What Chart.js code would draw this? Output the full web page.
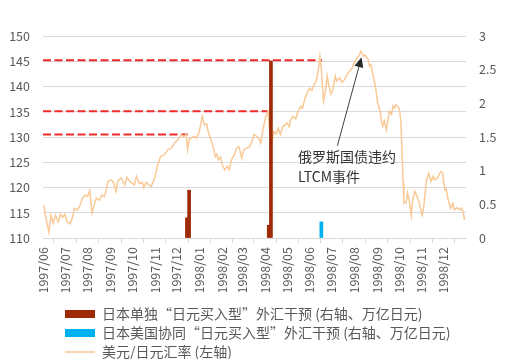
<!DOCTYPE html>
<html>
<head>
<meta charset="utf-8">
<script src="https://cdn.jsdelivr.net/npm/chart.js@4.4.1/dist/chart.umd.min.js"></script>
<style>
  html, body { margin: 0; padding: 0; background: #fff; }
  canvas { display: block; }
</style>
</head>
<body>
<canvas id="myChart" width="511" height="359"></canvas>
<script>
// 月份刻度（最后一个刻度 1999/01 不显示文字）
const xTickLabels = ['1997/06', '1997/07', '1997/08', '1997/09', '1997/10', '1997/11', '1997/12',
  '1998/01', '1998/02', '1998/03', '1998/04', '1998/05', '1998/06', '1998/07', '1998/08',
  '1998/09', '1998/10', '1998/11', '1998/12'];
const xEnd = '1999/01';

// 美元/日元汇率（左轴）
const rateDates = [
  '1997-06-02', '1997-06-05', '1997-06-09', '1997-06-12', '1997-06-15', '1997-06-18', '1997-06-22', '1997-06-25', '1997-06-28',
  '1997-07-01', '1997-07-04', '1997-07-08', '1997-07-11', '1997-07-14', '1997-07-18', '1997-07-21', '1997-07-25', '1997-07-29',
  '1997-08-01', '1997-08-04', '1997-08-07', '1997-08-10', '1997-08-13', '1997-08-17', '1997-08-21', '1997-08-24', '1997-08-26', '1997-08-29',
  '1997-09-02', '1997-09-05', '1997-09-09', '1997-09-11', '1997-09-16', '1997-09-21', '1997-09-24', '1997-09-28',
  '1997-10-04', '1997-10-07', '1997-10-11', '1997-10-15', '1997-10-17', '1997-10-20', '1997-10-24', '1997-10-27',
  '1997-11-01', '1997-11-05', '1997-11-09', '1997-11-14', '1997-11-19', '1997-11-24', '1997-11-28',
  '1997-12-03', '1997-12-07', '1997-12-10', '1997-12-14', '1997-12-16', '1997-12-18', '1997-12-21', '1997-12-25', '1997-12-28',
  '1998-01-01', '1998-01-05', '1998-01-08', '1998-01-11', '1998-01-13', '1998-01-16', '1998-01-19', '1998-01-23', '1998-01-25', '1998-01-27', '1998-01-30',
  '1998-02-02', '1998-02-05', '1998-02-08', '1998-02-11', '1998-02-14', '1998-02-18', '1998-02-21', '1998-02-24', '1998-02-26', '1998-02-28',
  '1998-03-03', '1998-03-07', '1998-03-11', '1998-03-14', '1998-03-17', '1998-03-21', '1998-03-23', '1998-03-26', '1998-03-29',
  '1998-04-02', '1998-04-05', '1998-04-07', '1998-04-10', '1998-04-13', '1998-04-16', '1998-04-19', '1998-04-22', '1998-04-25', '1998-04-28',
  '1998-05-01', '1998-05-04', '1998-05-06', '1998-05-09', '1998-05-13', '1998-05-16', '1998-05-20', '1998-05-22', '1998-05-26', '1998-05-29',
  '1998-06-01', '1998-06-04', '1998-06-07', '1998-06-10', '1998-06-13', '1998-06-15', '1998-06-17', '1998-06-20', '1998-06-23', '1998-06-25', '1998-06-27', '1998-06-30',
  '1998-07-03', '1998-07-06', '1998-07-08', '1998-07-12', '1998-07-15', '1998-07-19', '1998-07-22', '1998-07-25', '1998-07-29',
  '1998-08-01', '1998-08-05', '1998-08-08', '1998-08-10', '1998-08-14', '1998-08-16', '1998-08-20', '1998-08-22', '1998-08-24', '1998-08-26', '1998-08-30',
  '1998-09-02', '1998-09-05', '1998-09-07', '1998-09-09', '1998-09-11', '1998-09-14', '1998-09-16', '1998-09-18', '1998-09-21', '1998-09-23', '1998-09-25', '1998-09-27', '1998-09-30',
  '1998-10-02', '1998-10-04', '1998-10-07', '1998-10-08', '1998-10-11', '1998-10-13', '1998-10-16', '1998-10-18', '1998-10-20', '1998-10-23', '1998-10-26', '1998-10-29',
  '1998-11-02', '1998-11-04', '1998-11-08', '1998-11-11', '1998-11-14', '1998-11-17', '1998-11-19', '1998-11-23', '1998-11-26', '1998-11-28', '1998-11-30',
  '1998-12-03', '1998-12-05', '1998-12-07', '1998-12-11', '1998-12-14', '1998-12-16', '1998-12-20', '1998-12-23', '1998-12-26', '1998-12-28', '1998-12-30'
];
const rateValues = [
  116.5, 114.0, 111.2, 114.5, 112.9, 114.5, 113.2, 114.7, 114.1,
  114.7, 113.2, 112.8, 113.9, 115.9, 115.5, 116.2, 117.9, 118.5,
  118.2, 119.4, 114.9, 116.5, 117.9, 117.5, 118.5, 118.2, 119.2, 121.2,
  121.5, 121.2, 119.2, 121.2, 121.9, 120.5, 122.0, 121.2,
  120.5, 122.2, 120.8, 121.0, 119.9, 121.0, 120.5, 120.2,
  121.9, 124.5, 126.1, 126.5, 127.5, 127.8, 128.8,
  129.5, 130.5, 130.1, 130.5, 127.5, 129.5, 129.8, 130.1, 129.8,
  131.1, 134.1, 132.4, 132.6, 131.1, 129.8, 128.5, 126.1, 126.6, 125.5, 126.0,
  124.2, 123.5, 124.2, 123.5, 125.5, 126.5, 127.8, 128.1, 127.1, 125.8,
  127.5, 127.8, 128.1, 129.1, 130.5, 130.1, 129.8, 128.8, 131.4,
  134.1, 135.1, 131.4, 128.5, 131.1, 130.6, 131.8, 130.5, 132.0, 132.4,
  132.8, 132.0, 133.4, 134.1, 133.6, 135.1, 136.1, 135.7, 137.8, 138.8,
  139.7, 139.2, 140.4, 141.1, 143.4, 146.0, 143.5, 137.1, 139.4, 142.1, 140.4, 138.5,
  139.4, 142.1, 141.1, 141.7, 140.8, 141.4, 142.3, 143.0, 143.6,
  144.7, 145.7, 146.2, 147.0, 146.0, 146.2, 145.4, 144.0, 144.3, 142.7, 140.1,
  136.8, 135.4, 133.4, 132.1, 133.2, 131.4, 133.3, 135.1, 134.5, 136.1, 135.7, 136.4, 136.0,
  135.4, 132.8, 120.9, 116.9, 117.0, 118.9, 116.8, 114.5, 117.5, 119.2, 118.3, 116.9,
  114.5, 116.0, 121.5, 122.8, 121.2, 122.2, 121.5, 121.9, 122.8, 123.2, 122.9,
  119.5, 119.7, 117.9, 115.9, 116.9, 115.6, 116.0, 115.6, 115.9, 115.2, 113.6
];

// 日本单独“日元买入型”外汇干预（右轴，万亿日元）
const soloDates = ['1997-12-15', '1997-12-18', '1998-04-06', '1998-04-09'];
const soloValues = [0.30, 0.71, 0.19, 2.63];

// 日本美国协同“日元买入型”外汇干预（右轴，万亿日元）
const jointDates = ['1998-06-17'];
const jointValues = [0.24];

// 红色虚线：干预时的汇率水平
const refLevels = [145.2, 135.1, 130.5];
const refEnds = ['1998-06-18', '1998-04-05', '1997-12-16'];

// 注释
const noteLines = ['俄罗斯国债违约', 'LTCM事件'];
const noteDate = '1998-05-16';
const noteValues = [126.1, 122.2];
const arrowFrom = ['1998-07-09', 128.3];
const arrowTo = ['1998-08-11', 145.8];

const dayOf = (s) => {
  const p = s.split(/[-\/]/).map(Number);
  return (Date.UTC(p[0], p[1] - 1, p[2] || 1) - Date.UTC(1997, 5, 1)) / 86400000;
};

const tickDays = xTickLabels.concat([xEnd]).map(dayOf);

const toPoints = (dates, values) => dates.map((d, i) => ({ x: dayOf(d), y: values[i] }));

const fontFamily = '"Noto Sans CJK SC", "Noto Sans", sans-serif';
Chart.defaults.font.family = fontFamily;
Chart.defaults.color = '#595959';

const refDatasets = refLevels.map((lvl, i) => ({
  type: 'line',
  label: 'ref' + i,
  data: [{ x: 0, y: lvl }, { x: dayOf(refEnds[i]), y: lvl }],
  borderColor: '#EE2A2A',
  borderWidth: 2,
  borderDash: [8, 3.5],
  pointRadius: 0,
  yAxisID: 'y',
  order: 3
}));

const noteArrow = {
  id: 'noteArrow',
  afterDatasetsDraw(chart) {
    const { ctx, scales: { x, y } } = chart;
    ctx.save();
    ctx.fillStyle = '#333333';
    ctx.font = '14px ' + fontFamily;
    ctx.textBaseline = 'middle';
    ctx.textAlign = 'left';
    noteLines.forEach((t, i) => {
      ctx.fillText(t, x.getPixelForValue(dayOf(noteDate)), y.getPixelForValue(noteValues[i]));
    });
    const x0 = x.getPixelForValue(dayOf(arrowFrom[0]));
    const y0 = y.getPixelForValue(arrowFrom[1]);
    const x1 = x.getPixelForValue(dayOf(arrowTo[0]));
    const y1 = y.getPixelForValue(arrowTo[1]);
    const ang = Math.atan2(y1 - y0, x1 - x0);
    const len = 10, half = 4.5;
    const bx = x1 - len * Math.cos(ang), by = y1 - len * Math.sin(ang);
    ctx.strokeStyle = '#404040';
    ctx.lineWidth = 1;
    ctx.beginPath();
    ctx.moveTo(x0, y0);
    ctx.lineTo(bx, by);
    ctx.stroke();
    ctx.fillStyle = '#262626';
    ctx.beginPath();
    ctx.moveTo(x1, y1);
    ctx.lineTo(bx + half * Math.sin(ang), by - half * Math.cos(ang));
    ctx.lineTo(bx - half * Math.sin(ang), by + half * Math.cos(ang));
    ctx.closePath();
    ctx.fill();
    ctx.restore();
  }
};

// 图例放到左边靠下的位置
const legendShift = {
  id: 'legendShift',
  afterLayout(chart) {
    const lg = chart.legend;
    lg.left = 60;
    lg.right = 60 + lg.width;
    lg.top = 302;
    lg.bottom = lg.top + lg.height;
  }
};

const config = {
  type: 'line',
  data: {
    datasets: [
      {
        type: 'bar',
        label: '日本单独“日元买入型”外汇干预 (右轴、万亿日元)',
        data: toPoints(soloDates, soloValues),
        backgroundColor: '#9E2A06',
        barThickness: 3,
        grouped: false,
        yAxisID: 'y1',
        order: 0
      },
      {
        type: 'bar',
        label: '日本美国协同“日元买入型”外汇干预 (右轴、万亿日元)',
        data: toPoints(jointDates, jointValues),
        backgroundColor: '#00B0F0',
        barThickness: 3,
        grouped: false,
        yAxisID: 'y1',
        order: 1
      },
      {
        type: 'line',
        label: '美元/日元汇率 (左轴)',
        data: toPoints(rateDates, rateValues),
        borderColor: '#F9C996',
        backgroundColor: '#F9C996',
        borderWidth: 1.5,
        pointRadius: 0,
        tension: 0,
        yAxisID: 'y',
        order: 2
      },
      ...refDatasets
    ]
  },
  options: {
    responsive: false,
    animation: false,
    layout: { padding: { top: 36, left: 0, right: 0, bottom: 0 } },
    plugins: {
      tooltip: { enabled: false },
      legend: {
        position: 'bottom',
        align: 'start',
        labels: {
          usePointStyle: true,
          pointStyleWidth: 30,
          boxHeight: 8,
          padding: 5,
          color: '#595959',
          font: { size: 14 },
          filter: (item) => item.datasetIndex < 3,
          generateLabels: (chart) => Chart.defaults.plugins.legend.labels.generateLabels(chart).map((item) => {
            const ds = chart.data.datasets[item.datasetIndex];
            if (ds.type === 'bar') {
              item.pointStyle = 'rect';
              item.lineWidth = 0;
            } else {
              item.pointStyle = 'line';
              item.lineWidth = 1.5;
              item.strokeStyle = ds.borderColor;
            }
            return item;
          })
        }
      }
    },
    scales: {
      x: {
        type: 'linear',
        min: 0,
        max: dayOf(xEnd),
        offset: false,
        afterFit: (scale) => { scale.height = 54; },
        afterBuildTicks: (scale) => { scale.ticks = tickDays.map((v) => ({ value: v })); },
        grid: { drawOnChartArea: false, drawTicks: true, tickLength: 5, color: '#D9D9D9' },
        border: { display: true, color: '#D9D9D9' },
        ticks: {
          autoSkip: false,
          maxRotation: 90,
          minRotation: 90,
          padding: 4,
          color: '#595959',
          font: { size: 12.5 },
          callback: (v) => {
            const i = tickDays.indexOf(v);
            return i >= 0 && i < xTickLabels.length ? xTickLabels[i] : '';
          }
        }
      },
      y: {
        position: 'left',
        min: 110,
        max: 150,
        afterFit: (scale) => { scale.width = 43; },
        grid: { color: '#D9D9D9', drawTicks: false },
        border: { display: false },
        ticks: { stepSize: 5, padding: 13, color: '#595959', font: { size: 12.5 } }
      },
      y1: {
        position: 'right',
        min: 0,
        max: 3,
        afterFit: (scale) => { scale.width = 45; },
        grid: { drawOnChartArea: false, drawTicks: false },
        border: { display: false },
        ticks: { stepSize: 0.5, padding: 13, color: '#595959', font: { size: 12.5 }, callback: (v) => String(v) }
      }
    }
  },
  plugins: [noteArrow, legendShift]
};

const myChart = new Chart(document.getElementById('myChart'), config);
</script>
</body>
</html>
